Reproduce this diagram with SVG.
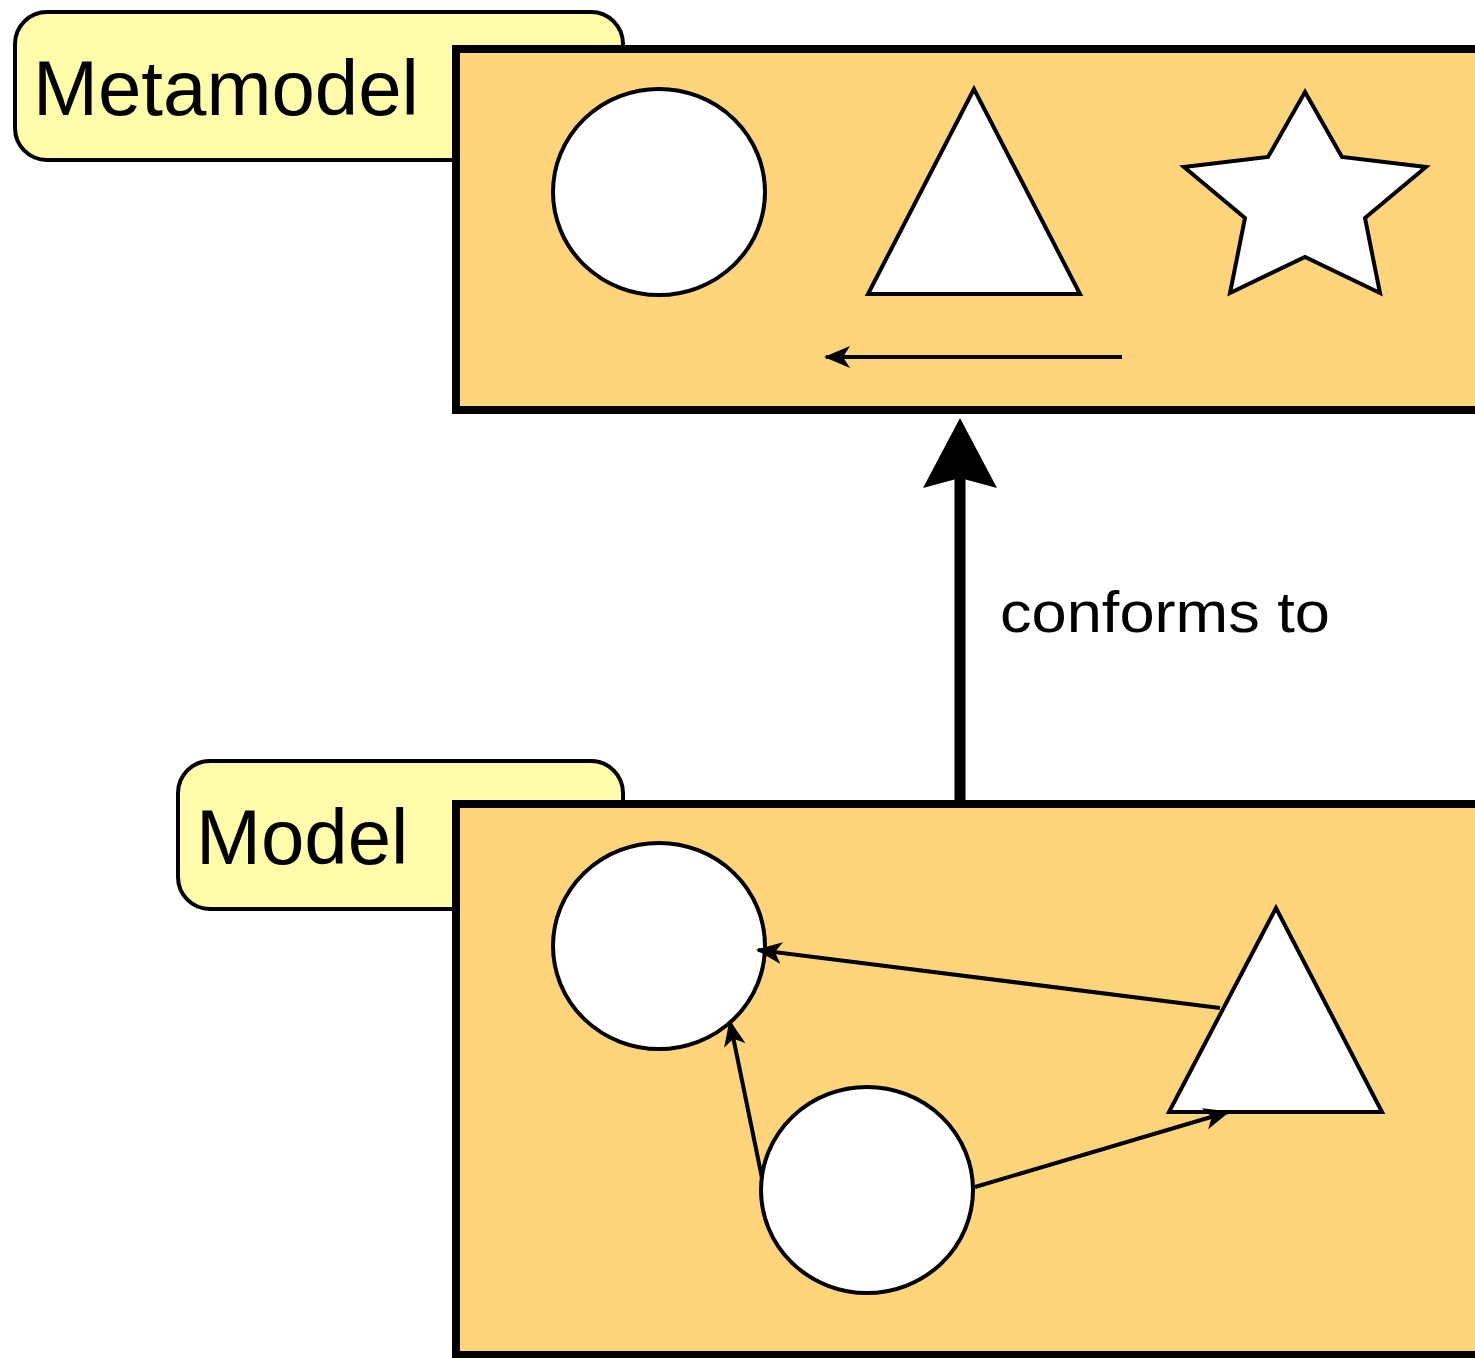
<svg xmlns="http://www.w3.org/2000/svg" width="1475" height="1358" viewBox="0 0 1475 1358">
<defs>
<style>
.label{fill:#FFFCAA;stroke:#000;stroke-width:4}
.box{fill:#FED57B;stroke:#000;stroke-width:8}
.shape{fill:#fff;stroke:#000;stroke-width:4}
.edge{stroke:#000;stroke-width:4;fill:none}
.txt{font-family:"Liberation Sans",Arial,sans-serif;fill:#000}
</style>
<marker id="ah" viewBox="0 0 26 22" refX="24" refY="11" markerWidth="26" markerHeight="22" markerUnits="userSpaceOnUse" orient="auto">
<path d="M0,0 L26,11 L0,22 L7,11 Z" fill="#000"/>
</marker>
<marker id="bigah" viewBox="0 0 70 74" refX="10" refY="37" markerWidth="70" markerHeight="74" markerUnits="userSpaceOnUse" orient="auto">
<path d="M0,0 L70,37 L0,74 L10,37 Z" fill="#000"/>
</marker>
</defs>
<rect width="1475" height="1358" fill="#fff"/>
<g id="metamodel">
<rect class="label" x="15" y="12" width="608" height="148" rx="32"/>
<text class="txt" x="33" y="115" font-size="78">Metamodel</text>
<rect class="box" x="456" y="49" width="1030" height="361"/>
<ellipse class="shape" cx="659" cy="192" rx="106" ry="103"/>
<polygon class="shape" points="974,89 868,294 1080,294"/>
<polygon class="shape" points="1305,92 1342,157 1426,167 1365,218 1380,293 1305,257 1230,293 1245,218 1184,167 1268,157"/>
<line class="edge" x1="1122" y1="357" x2="826" y2="357" marker-end="url(#ah)"/>
</g>
<g id="model">
<rect class="label" x="178" y="761" width="445" height="148" rx="32"/>
<text class="txt" x="196" y="864" font-size="78">Model</text>
<rect class="box" x="456" y="804" width="1030" height="551"/>
<ellipse id="c1" class="shape" cx="659" cy="946" rx="106" ry="103"/>
<ellipse id="c2" class="shape" cx="867" cy="1190" rx="106" ry="103"/>
<polygon id="t1" class="shape" points="1276,908 1169,1112 1382,1112"/>
</g>
<g id="connectors">
<line class="edge" x1="1220" y1="1008" x2="758" y2="950" marker-end="url(#ah)"/>
<line class="edge" x1="762" y1="1178" x2="730" y2="1022" marker-end="url(#ah)"/>
<line class="edge" x1="975" y1="1187" x2="1228" y2="1112" marker-end="url(#ah)"/>
<line x1="960" y1="800" x2="960" y2="478" stroke="#000" stroke-width="11" marker-end="url(#bigah)"/>
<text class="txt" x="1000" y="632" font-size="57" textLength="330" lengthAdjust="spacingAndGlyphs">conforms to</text>
</g>
</svg>
